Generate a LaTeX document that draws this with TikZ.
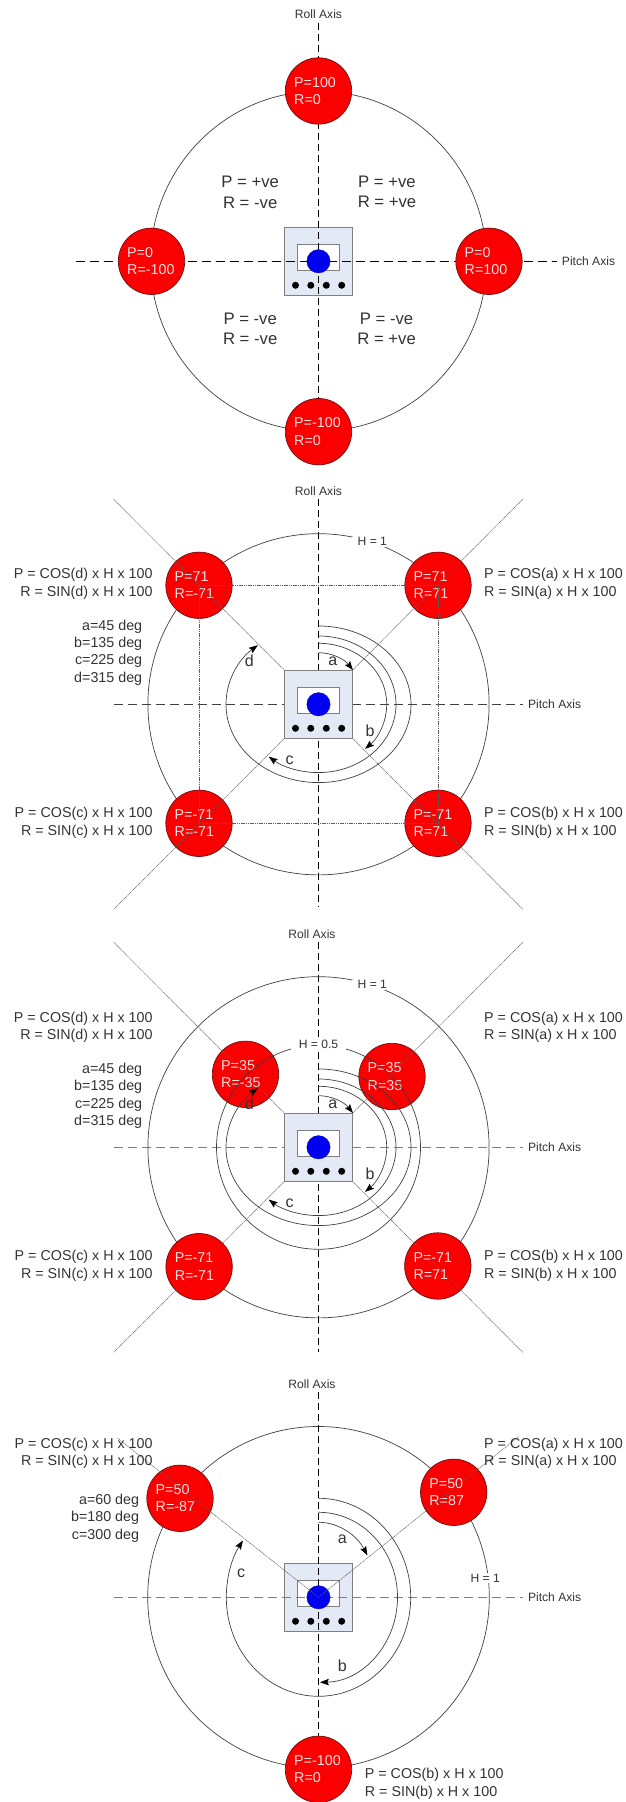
\documentclass[tikz,border=0pt]{standalone}
\usepackage{fontspec}
\setsansfont{Liberation Sans}
\usetikzlibrary{arrows.meta,positioning}
\definecolor{gyroInk}{HTML}{333333}
\definecolor{gyroLine}{HTML}{404040}
\definecolor{gyroGray}{HTML}{7F7F7F}
\definecolor{gyroRed}{HTML}{FA0000}
\definecolor{gyroEdge}{HTML}{6E1010}
\definecolor{gyroPanel}{HTML}{E3E9F5}
\definecolor{gyroBlue}{HTML}{0000F0}
\tikzset{
  every picture/.style={font=\sffamily, text=gyroInk},
  gyro disc/.style={circle, draw=gyroEdge, fill=gyroRed, line width=0.7pt, minimum size=66.4pt,
    inner sep=0pt, text width=48.6pt, align=left, text=white!88!red,
    font=\sffamily\fontsize{14.3}{17.4}\selectfont},
  gyro box/.style={draw=gyroGray, fill=gyroPanel, line width=1pt, minimum width=68.4pt,
    minimum height=68.4pt, inner sep=0pt},
  gyro window/.style={draw=gyroGray, fill=white, line width=1pt, minimum width=41.6pt,
    minimum height=25.6pt, inner sep=0pt},
  gyro eye/.style={circle, fill=gyroBlue, draw=gyroBlue!70!black, line width=0.3pt,
    minimum size=23.4pt, inner sep=0pt},
  gyro pin/.style={circle, fill=black, minimum size=7pt, inner sep=0pt},
  gyro axis/.style={draw=black, line width=0.5pt, dash pattern=on 6.5pt off 4.5pt},
  gyro level/.style={line width=0.55pt, dash pattern=on 9pt off 5pt},
  gyro ring/.style={draw=gyroLine, line width=0.7pt},
  gyro diag/.style={draw=gyroLine!85!white, line width=0.5pt, dash pattern=on 1.2pt off 0.6pt},
  gyro sweep/.style={-{Stealth[length=9pt,width=6.5pt,inset=1.5pt,color=black]}, draw=gyroLine, line width=0.7pt},
  gyro small/.style={font=\sffamily\fontsize{12.1}{14}\selectfont},
  gyro note/.style={font=\sffamily\fontsize{14.3}{17.4}\selectfont, inner sep=0pt},
  gyro quad/.style={font=\sffamily\fontsize{16.7}{20.3}\selectfont, align=center, inner sep=0pt},
  gyro mark/.style={font=\sffamily\fontsize{16}{18}\selectfont, inner sep=0pt},
  gyro gap/.style={gyro small, fill=white, inner ysep=1pt}
}
\newcommand{\gyrobody}[1]{%
  \node[gyro box] (box#1) at (0,0) {};
  \node[gyro window] (win#1) at (0,3.8) {};
}
\newcommand{\gyroeye}[1]{%
  \node[gyro eye] (eye#1) at (0,0) {};
  \foreach \x [count=\i] in {-23,-7.7,7.8,23.2}
    \node[gyro pin] (pin#1\i) at (\x,-24) {};
}
\newcommand{\gyrosweeps}[1]{%
  \draw[gyro sweep] (0,51.6) arc[start angle=90,end angle=41.5,x radius=46,y radius=51.6];
  \draw[gyro sweep] (0,61) arc[start angle=90,end angle=-47,x radius=68.2,y radius=61];
  \draw[gyro sweep] (0,68.3) arc[start angle=90,end angle=-130,x radius=77.5,y radius=68.3];
  \draw[gyro sweep] (0,78.3) arc[start angle=90,end angle=-229,x radius=92.5,y radius=78.3];
  \node[gyro mark] (mark#1a) at (14.2,42.6) {a};
  \node[gyro mark] (mark#1b) at (51.5,-26.8) {b};
  \node[gyro mark] (mark#1c) at (-29,-55.8) {c};
  \node[gyro mark] (mark#1d) at (-69.2,43.4) {d};
}
\begin{document}
\begin{tikzpicture}[x=1pt,y=1pt]
  \useasboundingbox (0,0) rectangle (625,1802);

  % all pitch and roll at full stick
  \begin{scope}[shift={(318.5,1540.7)}]
    \coordinate (topA) at (0,238); \coordinate (lowA) at (0,-170);
    \coordinate (farA) at (-242.7,0); \coordinate (endA) at (238,0);
    \draw[gyro ring] (0,0) ellipse [x radius=168, y radius=170];
    \gyrobody{A}
    \draw[gyro axis] (topA) -- (lowA);
    \draw[gyro axis,gyro level] (farA) -- (endA);
    \gyroeye{A}
    \node[gyro disc] (discAn) at (0,170.3) {P=100\\R=0};
    \node[gyro disc] (discAw) at (-167,0) {P=0\\R=-100};
    \node[gyro disc] (discAe) at (170.5,0) {P=0\\R=100};
    \node[gyro disc] (discAs) at (0,-170.4) {P=-100\\R=0};
    \node[gyro small] (rollA) at (0,247.5) {Roll Axis};
    \node[gyro small] (pitchA) at (270,0) {Pitch Axis};
    \node[gyro quad] (quadAnw) at (-68.3,68.8) {P = +ve\\R = -ve};
    \node[gyro quad] (quadAne) at (68.5,69.3) {P = +ve\\R = +ve};
    \node[gyro quad] (quadAsw) at (-68.3,-67.4) {P = -ve\\R = -ve};
    \node[gyro quad] (quadAse) at (68.1,-67.4) {P = -ve\\R = +ve};
  \end{scope}

  % four discs, all at full radius
  \begin{scope}[shift={(318.5,1097.7)}]
    \coordinate (topB) at (0,205); \coordinate (lowB) at (0,-203);
    \coordinate (farB) at (-204.8,0); \coordinate (endB) at (204.2,0);
    \coordinate (tipBnw) at (-204.8,205); \coordinate (tipBne) at (204.2,205);
    \coordinate (tipBsw) at (-204.8,-205); \coordinate (tipBse) at (204.2,-205);
    \draw[gyro axis] (topB) -- (lowB);
    \draw[gyro axis,gyro level,draw=gyroLine] (farB) -- (endB);
    \draw[gyro ring] (0,0) circle (170.6);
    \gyrobody{B}
    \gyroeye{B}
    \node[gyro gap,inner xsep=5.5pt] (heightB) at (53.8,162.6) {H = 1};
    \node[gyro disc] (discBnw) at (-119.5,119) {P=71\\R=-71};
    \node[gyro disc] (discBne) at (119.5,119) {P=71\\R=71};
    \node[gyro disc] (discBsw) at (-119.5,-119) {P=-71\\R=-71};
    \node[gyro disc] (discBse) at (119.5,-119) {P=-71\\R=71};
    \draw[gyro diag] (discBnw.center) -- (discBne.center) -- (discBse.center) -- (discBsw.center) -- cycle;
    \draw[gyro diag] (tipBnw) -- (boxB.north west);
    \draw[gyro diag] (tipBne) -- (boxB.north east);
    \draw[gyro diag] (tipBsw) -- (boxB.south west);
    \draw[gyro diag] (tipBse) -- (boxB.south east);
    \gyrosweeps{B}
    \node[gyro small] (rollB) at (0,213.6) {Roll Axis};
    \node[gyro small] (pitchB) at (236.1,0) {Pitch Axis};
    \node[gyro note,anchor=west,align=left] (noteBne) at (165.5,120.5) {P = COS(a) x H x 100\\R = SIN(a) x H x 100};
    \node[gyro note,anchor=east,align=right] (noteBnw) at (-165.7,120.5) {P = COS(d) x H x 100\\R = SIN(d) x H x 100};
    \node[gyro note,anchor=west,align=left] (noteBse) at (165.5,-118.5) {P = COS(b) x H x 100\\R = SIN(b) x H x 100};
    \node[gyro note,anchor=east,align=right] (noteBsw) at (-165.7,-118.5) {P = COS(c) x H x 100\\R = SIN(c) x H x 100};
    \node[gyro note,anchor=east,align=right] (listB) at (-176.1,51.7) {a=45 deg\\b=135 deg\\c=225 deg\\d=315 deg};
  \end{scope}

  % front discs pulled in to half radius
  \begin{scope}[shift={(318.5,654.7)}]
    \coordinate (topC) at (0,205); \coordinate (lowC) at (0,-205);
    \coordinate (farC) at (-204.8,0); \coordinate (endC) at (204.2,0);
    \coordinate (tipCnw) at (-204.8,205); \coordinate (tipCne) at (204.2,205);
    \coordinate (tipCsw) at (-204.8,-205); \coordinate (tipCse) at (204.2,-205);
    \draw[gyro axis] (topC) -- (lowC);
    \draw[gyro axis,gyro level,draw=gyroGray] (farC) -- (endC);
    \draw[gyro ring] (0,0) circle (170.6);
    \gyrobody{C}
    \gyroeye{C}
    \node[gyro gap,inner xsep=5.5pt] (heightC) at (53.8,162.6) {H = 1};
    \node[gyro disc] (discCnw) at (-73,73) {P=35\\R=-35};
    \node[gyro disc] (discCne) at (73.5,70.8) {P=35\\R=35};
    \node[gyro disc] (discCsw) at (-119.4,-119.4) {P=-71\\R=-71};
    \node[gyro disc] (discCse) at (119.3,-118.7) {P=-71\\R=71};
    \draw[gyro ring] (0,0) circle (102);
    \node[gyro gap,inner xsep=7.5pt] (halfC) at (0,103) {H = 0.5};
    \foreach \c/\a in {nw/north west,ne/north east,sw/south west,se/south east}
      \draw[gyro diag] (tipC\c) -- (boxC.\a);
    \gyrosweeps{C}
    \node[gyro small] (rollC) at (-6.5,213.6) {Roll Axis};
    \node[gyro small] (pitchC) at (236.1,0) {Pitch Axis};
    \node[gyro note,anchor=west,align=left] (noteCne) at (165.5,120.1) {P = COS(a) x H x 100\\R = SIN(a) x H x 100};
    \node[gyro note,anchor=east,align=right] (noteCnw) at (-165.7,120.1) {P = COS(d) x H x 100\\R = SIN(d) x H x 100};
    \node[gyro note,anchor=west,align=left] (noteCse) at (165.5,-118.4) {P = COS(b) x H x 100\\R = SIN(b) x H x 100};
    \node[gyro note,anchor=east,align=right] (noteCsw) at (-165.7,-118.4) {P = COS(c) x H x 100\\R = SIN(c) x H x 100};
    \node[gyro note,anchor=east,align=right] (listC) at (-176.1,51.5) {a=45 deg\\b=135 deg\\c=225 deg\\d=315 deg};
  \end{scope}

  % three discs
  \begin{scope}[shift={(318.5,204.7)}]
    \coordinate (topD) at (0,205); \coordinate (lowD) at (0,-172);
    \coordinate (farD) at (-204.8,0); \coordinate (endD) at (204.2,0);
    \coordinate (tipDnw) at (-200.8,159); \coordinate (tipDne) at (200,160.6);
    \draw[gyro ring] (0,0) circle (170.8);
    \gyrobody{D}
    \draw[gyro axis] (topD) -- (lowD);
    \draw[gyro axis,gyro level,draw=gyroGray] (farD) -- (endD);
    \gyroeye{D}
    \node[gyro gap,inner xsep=1pt] (heightD) at (166.7,19.3) {H = 1};
    \node[gyro disc] (discDnw) at (-138.5,99) {P=50\\R=-87};
    \node[gyro disc] (discDne) at (135.2,105) {P=50\\R=87};
    \node[gyro disc] (discDs) at (0,-172) {P=-100\\R=0};
    \draw[gyro diag] (tipDnw) -- (eyeD.center);
    \draw[gyro diag] (tipDne) -- (eyeD.center);
    \draw[gyro sweep] (0,75) arc[start angle=90,end angle=34,x radius=59,y radius=75];
    \draw[gyro sweep] (0,85) arc[start angle=90,end angle=-89,x radius=79,y radius=85];
    \draw[gyro sweep] (0,99) arc[start angle=90,end angle=-215,x radius=92.2,y radius=99];
    \node[gyro mark] (markDa) at (23.8,58) {a};
    \node[gyro mark] (markDb) at (23.8,-68.7) {b};
    \node[gyro mark] (markDc) at (-77.5,24) {c};
    \node[gyro small] (rollD) at (-6.5,213.6) {Roll Axis};
    \node[gyro small] (pitchD) at (236.1,0.6) {Pitch Axis};
    \node[gyro note,anchor=east,align=right] (noteDnw) at (-165.7,144) {P = COS(c) x H x 100\\R = SIN(c) x H x 100};
    \node[gyro note,anchor=west,align=left] (noteDne) at (165.5,144) {P = COS(a) x H x 100\\R = SIN(a) x H x 100};
    \node[gyro note,anchor=west,align=left] (noteDs) at (46.2,-186.4) {P = COS(b) x H x 100\\R = SIN(b) x H x 100};
    \node[gyro note,anchor=east,align=right] (listD) at (-179.2,79) {a=60 deg\\b=180 deg\\c=300 deg};
  \end{scope}
\end{tikzpicture}
\end{document}
